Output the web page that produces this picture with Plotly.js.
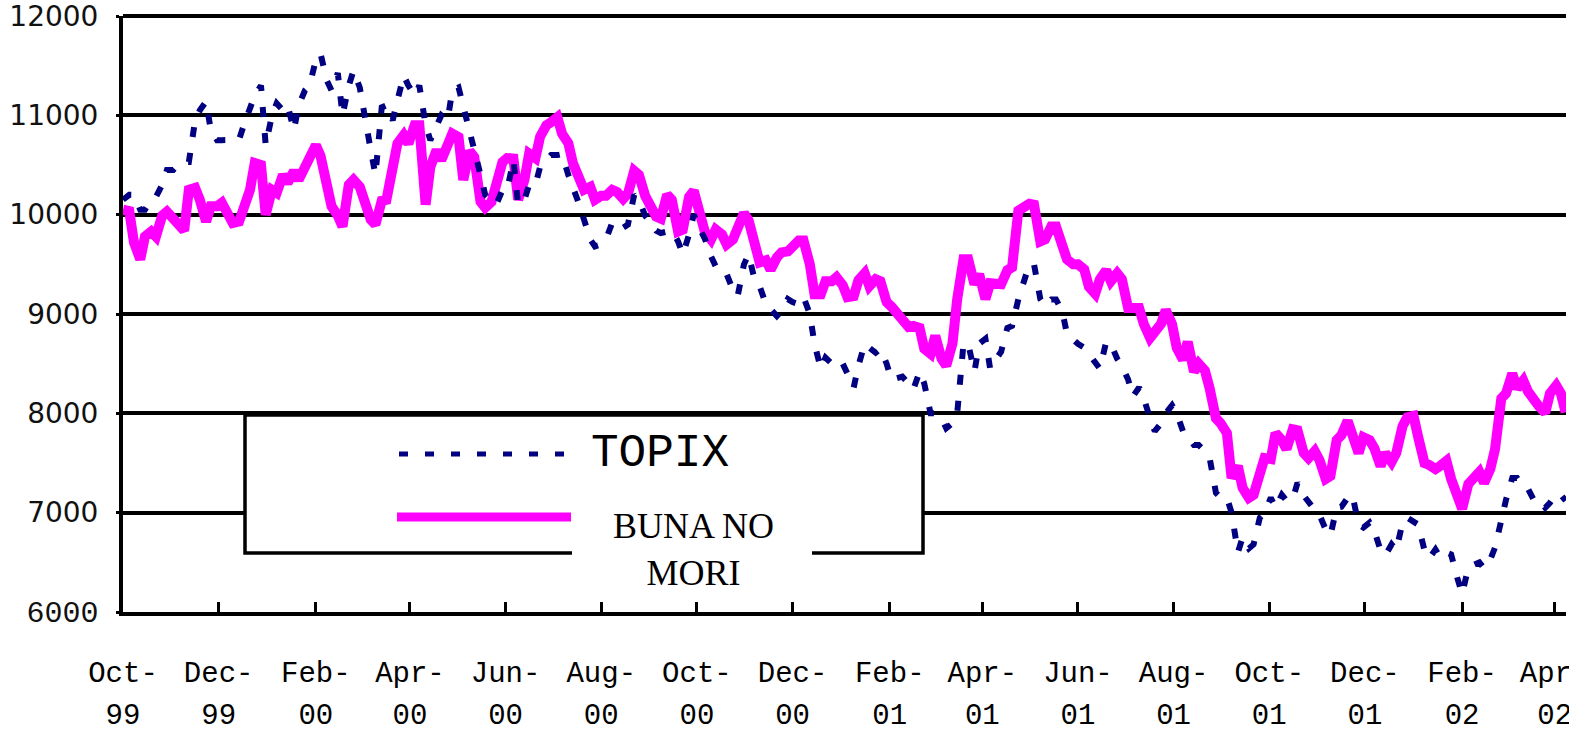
<!DOCTYPE html>
<html>
<head>
<meta charset="utf-8">
<script src="https://cdn.plot.ly/plotly-3.0.1.min.js"></script>
<style>
  html, body { margin: 0; padding: 0; background: #ffffff; }
  #chart { width: 1583px; height: 729px; }
</style>
</head>
<body>
<div id="chart"></div>
<script>
// ---- Data: readings twice a week (Fri / Tue) ----
const dates = [
  "1999-10-01","1999-10-05","1999-10-08","1999-10-12","1999-10-15","1999-10-19","1999-10-22","1999-10-26","1999-10-29","1999-11-02","1999-11-05","1999-11-09","1999-11-12","1999-11-16","1999-11-19","1999-11-23","1999-11-26","1999-11-30",
  "1999-12-03","1999-12-07","1999-12-10","1999-12-14","1999-12-17","1999-12-21","1999-12-24","1999-12-28","1999-12-31","2000-01-04","2000-01-07","2000-01-11","2000-01-14","2000-01-18","2000-01-21","2000-01-25","2000-01-28","2000-02-01",
  "2000-02-04","2000-02-08","2000-02-11","2000-02-15","2000-02-18","2000-02-22","2000-02-25","2000-02-29","2000-03-03","2000-03-07","2000-03-10","2000-03-14","2000-03-17","2000-03-21","2000-03-24","2000-03-28","2000-03-31","2000-04-04",
  "2000-04-07","2000-04-11","2000-04-14","2000-04-18","2000-04-21","2000-04-25","2000-04-28","2000-05-02","2000-05-05","2000-05-09","2000-05-12","2000-05-16","2000-05-19","2000-05-23","2000-05-26","2000-05-30","2000-06-02","2000-06-06",
  "2000-06-09","2000-06-13","2000-06-16","2000-06-20","2000-06-23","2000-06-27","2000-06-30","2000-07-04","2000-07-07","2000-07-11","2000-07-14","2000-07-18","2000-07-21","2000-07-25","2000-07-28","2000-08-01","2000-08-04","2000-08-08",
  "2000-08-11","2000-08-15","2000-08-18","2000-08-22","2000-08-25","2000-08-29","2000-09-01","2000-09-05","2000-09-08","2000-09-12","2000-09-15","2000-09-19","2000-09-22","2000-09-26","2000-09-29","2000-10-03","2000-10-06","2000-10-10",
  "2000-10-13","2000-10-17","2000-10-20","2000-10-24","2000-10-27","2000-10-31","2000-11-03","2000-11-07","2000-11-10","2000-11-14","2000-11-17","2000-11-21","2000-11-24","2000-11-28","2000-12-01","2000-12-05","2000-12-08","2000-12-12",
  "2000-12-15","2000-12-19","2000-12-22","2000-12-26","2000-12-29","2001-01-02","2001-01-05","2001-01-09","2001-01-12","2001-01-16","2001-01-19","2001-01-23","2001-01-26","2001-01-30","2001-02-02","2001-02-06","2001-02-09","2001-02-13",
  "2001-02-16","2001-02-20","2001-02-23","2001-02-27","2001-03-02","2001-03-06","2001-03-09","2001-03-13","2001-03-16","2001-03-20","2001-03-23","2001-03-27","2001-03-30","2001-04-03","2001-04-06","2001-04-10","2001-04-13","2001-04-17",
  "2001-04-20","2001-04-24","2001-04-27","2001-05-01","2001-05-04","2001-05-08","2001-05-11","2001-05-15","2001-05-18","2001-05-22","2001-05-25","2001-05-29","2001-06-01","2001-06-05","2001-06-08","2001-06-12","2001-06-15","2001-06-19",
  "2001-06-22","2001-06-26","2001-06-29","2001-07-03","2001-07-06","2001-07-10","2001-07-13","2001-07-17","2001-07-20","2001-07-24","2001-07-27","2001-07-31","2001-08-03","2001-08-07","2001-08-10","2001-08-14","2001-08-17","2001-08-21",
  "2001-08-24","2001-08-28","2001-08-31","2001-09-04","2001-09-07","2001-09-11","2001-09-14","2001-09-18","2001-09-21","2001-09-25","2001-09-28","2001-10-02","2001-10-05","2001-10-09","2001-10-12","2001-10-16","2001-10-19","2001-10-23",
  "2001-10-26","2001-10-30","2001-11-02","2001-11-06","2001-11-09","2001-11-13","2001-11-16","2001-11-20","2001-11-23","2001-11-27","2001-11-30","2001-12-04","2001-12-07","2001-12-11","2001-12-14","2001-12-18","2001-12-21","2001-12-25",
  "2001-12-28","2002-01-01","2002-01-04","2002-01-08","2002-01-11","2002-01-15","2002-01-18","2002-01-22","2002-01-25","2002-01-29","2002-02-01","2002-02-05","2002-02-08","2002-02-12","2002-02-15","2002-02-19","2002-02-22","2002-02-26",
  "2002-03-01","2002-03-05","2002-03-08","2002-03-12","2002-03-15","2002-03-19","2002-03-22","2002-03-26","2002-03-29","2002-04-02","2002-04-05","2002-04-08"
];

const bunaNoMori = [
  10050,10035, 9720, 9550, 9780, 9830, 9780, 9990,10030, 9960, 9880, 9840,10250,10270,10150, 9930,10085,10085,
  10120, 9980, 9915, 9930,10085,10250,10520,10500,10000,10250,10220,10400,10320,10440,10350,10500,10555,10700,
  10590,10300,10085, 9990, 9880,10300,10350,10280,10150, 9950, 9900,10140,10150,10550,10715,10800,10715,10900,
  10900,10100,10480,10650,10550,10700,10815,10780,10350,10640,10580,10130,10070,10130,10350,10530,10570,10565,
  10150,10350,10615,10570,10785,10900,10930,10980,10815,10720,10515,10380,10250,10280,10150,10190,10190,10250,
  10230,10160,10210,10440,10400,10190,10100, 9980, 9960,10200,10150, 9830, 9850,10180,10240,10030, 9830, 9750,
   9850, 9800, 9700, 9750, 9880,10015, 9940, 9700, 9520, 9540, 9445, 9570, 9620, 9630, 9680, 9740, 9740, 9500,
   9200, 9200, 9330, 9330, 9370, 9290, 9170, 9180, 9340, 9410, 9280, 9350, 9330, 9120, 9075, 8990, 8950, 8870,
   8880, 8860, 8650, 8600, 8780, 8550, 8480, 8705, 9150, 9550, 9550, 9300, 9400, 9150, 9310, 9310, 9300, 9440,
   9470,10040,10060,10110,10100, 9730, 9750, 9880, 9880, 9700, 9550, 9500, 9500, 9450, 9275, 9205, 9350, 9440,
   9330, 9410, 9350, 9060, 9050, 9060, 8900, 8760, 8820, 8900, 9040, 8900, 8660, 8540, 8720, 8420, 8500, 8430,
   8250, 7950, 7900, 7800, 7350, 7470, 7250, 7150, 7180, 7450, 7550, 7540, 7800, 7730, 7640, 7840, 7830, 7600,
   7550, 7620, 7530, 7340, 7370, 7730, 7780, 7925, 7750, 7600, 7760, 7730, 7650, 7470, 7600, 7510, 7600, 7870,
   7960, 7975, 7760, 7500, 7480, 7440, 7470, 7520, 7340, 7135, 7040, 7290, 7350, 7410, 7300, 7440, 7640, 8150,
   8200, 8400, 8250, 8330, 8220, 8120, 8070, 8005, 8200, 8280, 8200, 8010
];

const topix = [
  10150,10200,10200,10050,10050,10150,10180,10300,10450,10450,10500,10530,10530,10950,11050,11140,10850,10750,
  10750,10750,10750,10755,10900,11050,11200,11300,10700,11000,11120,11050,11100,10850,11100,11250,11300,11560,
  11620,11350,11250,11425,11000,11300,11450,11280,10980,10650,10400,11080,11100,10950,11150,11400,11300,11200,
  11300,10900,10750,10900,11000,10950,11250,11280,11100,10815,10650,10400,10200,10150,10100,10250,10250,10550,
  10100,10150,10300,10300,10480,10550,10600,10600,10610,10400,10250,10100, 9950, 9750, 9680, 9700, 9750, 9920,
   9930, 9870, 9900,10200,10150, 9990, 9930, 9840, 9815, 9830, 9840, 9730, 9600, 9800,10000, 9850, 9760, 9580,
   9480, 9400, 9400, 9240, 9180, 9500, 9600, 9330, 9280, 9100, 9040, 8980, 9030, 9150, 9120, 9100, 9170, 9000,
   8700, 8450, 8560, 8500, 8540, 8500, 8400, 8260, 8480, 8700, 8660, 8610, 8650, 8500, 8340, 8360, 8370, 8300,
   8240, 8420, 8300, 8000, 8000, 7950, 7850, 7900, 8000, 8700, 8700, 8420, 8700, 8750, 8450, 8550, 8620, 8860,
   8880, 9150, 9300, 9500, 9500, 9150, 9080, 9145, 9145, 9030, 8800, 8730, 8700, 8660, 8600, 8500, 8450, 8720,
   8700, 8550, 8480, 8340, 8170, 8260, 8150, 7950, 7820, 7900, 8000, 8080, 8000, 7820, 7770, 7680, 7680, 7620,
   7550, 7200, 7150, 7150, 7000, 6600, 6750, 6640, 6680, 6950, 7000, 7150, 7050, 7180, 7120, 7135, 7300, 7170,
   7100, 7030, 6980, 6830, 6770, 7050, 7060, 7150, 7180, 6880, 6850, 6900, 6820, 6620, 6570, 6680, 6620, 6900,
   6950, 6900, 6880, 6620, 6540, 6630, 6550, 6600, 6580, 6340, 6180, 6450, 6470, 6500, 6440, 6530, 6650, 6950,
   7130, 7350, 7350, 7260, 7240, 7120, 7130, 7050, 7100, 7190, 7180, 7120
];

const seriesNames = ["TOPIX", "BUNA NO MORI"];

const tickDates = ["1999-10-01","1999-12-01","2000-02-01","2000-04-01","2000-06-01","2000-08-01","2000-10-01","2000-12-01",
                   "2001-02-01","2001-04-01","2001-06-01","2001-08-01","2001-10-01","2001-12-01","2002-02-01","2002-04-01"];
const tickMonths = ["Oct-","Dec-","Feb-","Apr-","Jun-","Aug-","Oct-","Dec-","Feb-","Apr-","Jun-","Aug-","Oct-","Dec-","Feb-","Apr-"];
const tickYears  = ["99","99","00","00","00","00","00","00","01","01","01","01","01","01","02","02"];

const yTicks = [6000, 7000, 8000, 9000, 10000, 11000, 12000];
const yTickText = ["<span style=\"font-family:Liberation Mono;font-size:30px\">6000</span>",
                   "7000","8000","9000","10000","11000","12000"];

// ---- Layout helpers (pixel -> paper) ----
const W = 1583, H = 729;
const PL = 123, PR = 1566, PT = 16, PB = 612;
const px = x => (x - PL) / (PR - PL);
const py = y => (PB - y) / (PB - PT);

const NAVY = "#000080", MAGENTA = "#FF00FF";

const traces = [
  {
    x: dates, y: bunaNoMori, name: seriesNames[1], type: "scatter", mode: "lines",
    xaxis: "x", yaxis: "y",
    line: { color: MAGENTA, width: 10 }, showlegend: false, hoverinfo: "skip"
  },
  {
    x: dates, y: topix, name: seriesNames[0], type: "scatter", mode: "lines",
    xaxis: "x2", yaxis: "y",
    line: { color: NAVY, width: 6, dash: "10px,16px" }, showlegend: false, hoverinfo: "skip"
  }
];

const xRange = ["1999-10-01", "2002-04-08 06:00"];
const monoFont = "Liberation Mono, Courier New, monospace";

const layout = {
  width: W, height: H,
  paper_bgcolor: "#ffffff", plot_bgcolor: "#ffffff",
  margin: { l: PL, r: W - PR, t: PT, b: H - PB },
  showlegend: false,
  xaxis: {
    type: "date", range: xRange,
    tickmode: "array", tickvals: tickDates, ticktext: tickMonths,
    ticks: "inside", ticklen: 10, tickwidth: 3, tickcolor: "#000",
    showline: true, linecolor: "#000", linewidth: 4,
    showgrid: false, zeroline: false,
    tickfont: { family: monoFont, size: 29, color: "#000" },
    ticklabelstandoff: 31, ticklabeloverflow: "allow"
  },
  xaxis2: {
    type: "date", range: xRange, overlaying: "x", anchor: "y", side: "bottom",
    tickmode: "array", tickvals: tickDates, ticktext: tickYears,
    ticks: "", showline: false, showgrid: false, zeroline: false,
    tickfont: { family: monoFont, size: 29, color: "#000" },
    ticklabelstandoff: 82, ticklabeloverflow: "allow"
  },
  yaxis: {
    range: [6000, 12000],
    tickmode: "array", tickvals: yTicks, ticktext: yTickText,
    ticks: "outside", ticklen: 3, tickwidth: 3, tickcolor: "#000",
    showline: true, linecolor: "#000", linewidth: 4,
    showgrid: true, gridcolor: "#000", gridwidth: 4,
    zeroline: false,
    tickfont: { family: "DejaVu Sans, Verdana, sans-serif", size: 28, color: "#111" },
    ticklabelstandoff: 12, ticklabeloverflow: "allow"
  },
  shapes: [
    { type: "line", xref: "paper", yref: "paper", x0: 0, x1: 1, y0: 1, y1: 1,
      line: { color: "#000", width: 4 }, layer: "below" },
    { type: "rect", xref: "paper", yref: "paper", x0: px(245), x1: px(923), y0: py(553), y1: py(415),
      line: { color: "#000", width: 3.5 }, fillcolor: "#ffffff", layer: "above" },
    { type: "line", xref: "paper", yref: "paper", x0: px(399), x1: px(572), y0: py(454), y1: py(454),
      line: { color: NAVY, width: 5, dash: "9px,17px" }, layer: "above" },
    { type: "line", xref: "paper", yref: "paper", x0: px(397), x1: px(571), y0: py(517), y1: py(517),
      line: { color: MAGENTA, width: 9 }, layer: "above" },
    { type: "rect", xref: "paper", yref: "paper", x0: px(572), x1: px(812), y0: py(600), y1: py(490),
      line: { width: 0 }, fillcolor: "#ffffff", layer: "above" },
    // right-edge clip of the last tick labels, as in the reference
    { type: "rect", xref: "paper", yref: "paper", x0: px(1569), x1: px(1600), y0: py(735), y1: py(640),
      line: { width: 0 }, fillcolor: "#ffffff", layer: "above" }
  ],
  annotations: [
    { xref: "paper", yref: "paper", x: px(660), y: py(454), text: seriesNames[0], showarrow: false,
      xanchor: "center", yanchor: "middle",
      font: { family: monoFont, size: 46, color: "#000" } },
    { xref: "paper", yref: "paper", x: px(693), y: py(549), text: "BUNA NO<br>MORI", showarrow: false,
      xanchor: "center", yanchor: "middle", align: "center",
      font: { family: "Liberation Serif, Times New Roman, serif", size: 36, color: "#000" } }
  ]
};

Plotly.newPlot("chart", traces, layout, { displayModeBar: false, staticPlot: true });
</script>
</body>
</html>
